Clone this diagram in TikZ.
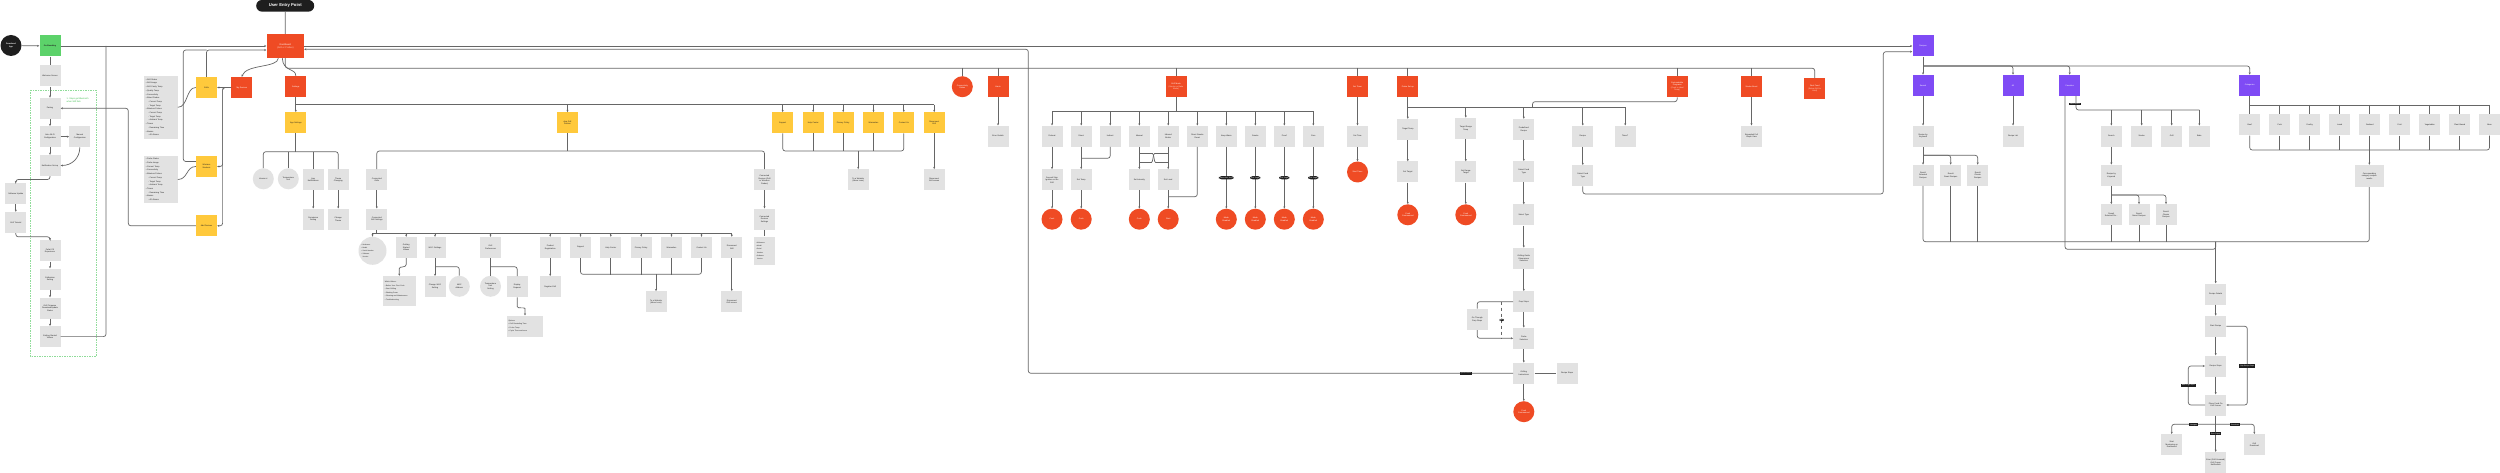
\documentclass[tikz,border=0pt]{standalone}
\usepackage{fontspec}
\setmainfont{Liberation Sans}
\newfontfamily\djv{DejaVu Sans}
\newcommand{\subitm}{\hspace*{2pt}{\djv ◦}\ }
\usetikzlibrary{arrows.meta}
\definecolor{cred}{HTML}{EF4B24}
\definecolor{cyel}{HTML}{FFC93C}
\definecolor{cgrn}{HTML}{5CD26A}
\definecolor{cdgrn}{HTML}{8FDC99}
\definecolor{cnote}{HTML}{3DBE4E}
\definecolor{cpur}{HTML}{7F4BF5}
\definecolor{cgry}{HTML}{E2E2E2}
\definecolor{cblk}{HTML}{1E1E1E}
\definecolor{cln}{HTML}{666666}
\definecolor{ctxt}{HTML}{222222}
\definecolor{cpink}{HTML}{FFD2C2}
\begin{document}
\begin{tikzpicture}[x=1pt,y=-1pt,
 every node/.style={inner sep=0.5pt},
 base/.style={rectangle, minimum width=21pt, minimum height=21pt, text width=19.5pt, align=center, font=\fontsize{2}{2.5}\selectfont},
 gbx/.style={base, fill=cgry, text=ctxt},
 rbx/.style={base, fill=cred, text=white},
 ybx/.style={base, fill=cyel, text=ctxt},
 pbx/.style={base, fill=cpur, text=white},
 gci/.style={circle, fill=cgry, text=ctxt, minimum size=21pt, text width=17pt, align=center, font=\fontsize{2}{2.5}\selectfont},
 rci/.style={circle, fill=cred, text=white, minimum size=21pt, text width=17pt, align=center, font=\fontsize{2}{2.5}\selectfont},
 blk/.style={fill=cblk, text=white, inner xsep=1pt, inner ysep=0.8pt, font=\fontsize{1.7}{2}\selectfont},
 bul/.style={fill=cgry, text=ctxt, align=left, text width=#1, inner sep=1.8pt, font=\fontsize{2}{3.7}\selectfont},
 lnk/.style={draw=cln, line width=0.7pt, rounded corners=2.5pt},
 arw/.style={lnk, -{Stealth[length=2.2pt,width=2pt]}}
]
\useasboundingbox (0,0) rectangle (2500,473);
\fill[white] (0,0) rectangle (2500,473);

% ---------------- onboarding ----------------
\draw[draw=cdgrn, line width=0.5pt, dash pattern=on 1.5pt off 1pt] (30.7,90) rectangle (96,356.5);
\node[circle, fill=cblk, text=white, minimum size=21pt, text width=18pt, align=center, font=\fontsize{2}{2.4}\selectfont\bfseries] (dl) at (11,45.5) {Download\\App};
\node[base, fill=cgrn, text=ctxt, font=\fontsize{2}{2.5}\selectfont\bfseries] (onb) at (50,46) {On-Boarding};
\node[gbx] (acct) at (50,76) {Welcome Screen};
\node[anchor=west, align=left, text=cnote, font=\fontsize{2.2}{3.5}\selectfont] (note) at (66,100) {1. Steps get Bluetooth\\when Wifi fails};
\node[gbx] (pair) at (50,108.3) {Pairing};
\node[gbx] (autow) at (50,136.7) {Auto Wi-Fi\\Configuration};
\node[gbx] (manw) at (79.8,136.7) {Manual\\Configuration};
\node[gbx] (notif) at (50,165.5) {Notification Set-up};
\node[gbx] (swu) at (15.8,193.8) {Software Update};
\node[gbx] (tut) at (15.8,222.5) {Grill Tutorial};
\node[gbx] (prime) at (50,250.8) {Pellet Fill\\Experience};
\node[gbx] (calib) at (50,279) {Calibration\\Setting};
\node[gbx] (firm) at (50,308) {Grill Firmware\\Download/Update\\Status};
\node[gbx] (gs) at (50,336.6) {Getting Started\\Videos};

% ---------------- dashboard area ----------------
\node[rectangle, rounded corners=5.8pt, fill=cblk, text=white, minimum width=58pt, minimum height=11.7pt, font=\fontsize{4.2}{5}\selectfont\bfseries] (uep) at (285.2,5.8) {User Entry Point};
\node[rbx, minimum width=37.3pt, minimum height=24pt, text width=35pt, font=\fontsize{2.3}{3}\selectfont] (dash) at (285.3,46) {Dashboard\\{\color{cpink}(Grill or Probes)}};
\node[ybx] (grills) at (206.5,87.5) {Grills};
\node[rbx] (mydev) at (241.8,87.5) {My Devices};
\node[rbx] (sett) at (295.8,86.5) {Settings};
\node[ybx] (wsm) at (206.5,166.5) {Wireless\\Smokers};
\node[ybx] (adddev) at (206.5,225.8) {Add Devices};
\node[bul=30pt, minimum height=62.7pt] (bl1) at (160.8,107.3) {• Grill Status\\• Grill Image\\• Grill Cavity Temp\\• Quality Temp\\• Connectivity\\• Wired Probes\\\subitm Current Temp\\\subitm Target Temp\\• Wireless Probes\\\subitm Current Temp\\\subitm Target Temp\\\subitm Ambient Temp\\• Timers\\\subitm Remaining Time\\• Alarms\\\subitm All Alarms};
\node[bul=30pt, minimum height=47.7pt] (bl2) at (160.8,179.5) {• Probe Status\\• Probe Image\\• Current Temp\\• Connectivity\\• Wireless Probes\\\subitm Current Temp\\\subitm Target Temp\\\subitm Ambient Temp\\• Timers\\\subitm Remaining Time\\• Alarms\\\subitm All Alarms};

% onboarding edges
\draw[arw] (dl) -- (onb);
\draw[arw] (onb) -- (dash.west);
\draw[lnk] (gs.east) -- (106,336.6) -- (106,46);
\draw[lnk] (onb) -- (acct);
\draw[arw] (acct) -- (pair);
\draw[arw] (pair) -- (autow);
\draw[arw] (autow) -- (manw);
\draw[arw] (autow) -- (notif);
\draw[arw] (manw.south) .. controls (79.8,158) and (72,165.5) .. (notif.east);
\draw[arw] (notif.south) -- (50,179.5) -- (15.8,179.5) -- (swu.north);
\draw[arw] (swu) -- (tut);
\draw[arw] (tut.south) -- (15.8,236.8) -- (50,236.8) -- (prime.north);
\draw[arw] (prime) -- (calib);
\draw[arw] (calib) -- (firm);
\draw[arw] (firm) -- (gs);
\draw[arw] (adddev.west) -- (128.3,225.8) -- (128.3,108.3) -- (pair.east);

% dashboard edges
\draw[lnk] (uep) -- (dash);
\draw[arw] (grills.north) -- (206.5,50) -- ([yshift=-4pt]dash.west);
\draw[lnk] ([yshift=5pt]wsm.west) -- (183.3,161.5) -- (183.3,50) -- (206.5,50);
\draw[lnk] (bl1.east) .. controls (188,107.3) and (186,87.5) .. (grills.west);
\draw[lnk] (bl2.east) .. controls (188,179.5) and (186,166.5) .. (wsm.west);
\draw[arw] ([xshift=-7pt]dash.south) .. controls (278,68) and (246,64) .. (mydev.north);
\draw[lnk] ([xshift=-3pt]dash.south) .. controls (283,72) and (296,68) .. (sett.north);
\draw[arw] (mydev.west) -- (grills.east);
\draw[arw] (mydev.west) -- ++(-8.5,0) |- (wsm.east);
\draw[arw] (mydev.west) -- ++(-8.5,0) |- (adddev.east);

% ---------------- settings ----------------
\node[ybx] (app) at (295.8,122.8) {App Settings};
\node[ybx] (gsety) at (567.5,122.8) {App Grill\\Section};
\node[ybx] (supy) at (782.7,122.8) {Support};
\node[ybx] (helpy) at (813.2,122.8) {Help Center};
\node[ybx] (privy) at (843.2,122.8) {Privacy Policy};
\node[ybx] (warry) at (873.5,122.8) {Warranties};
\node[ybx] (conty) at (903.8,122.8) {Contact Us};
\node[ybx] (discy) at (934.2,122.8) {Disconnect\\Grill};
\draw[arw] (sett) -- (app);
\draw[lnk] (295.8,104.8) -- (934.2,104.8);
\foreach \n in {gsety,supy,helpy,privy,warry,conty,discy} \draw[arw] ([yshift=7.5pt]\n.north) -- (\n.north);

\node[gci] (ver) at (263.3,178.8) {Version \#};
\node[gci] (tunit) at (288.3,178.8) {Temperature\\Unit};
\node[gbx] (appn) at (313.2,179.8) {App\\Notifications};
\node[gbx] (theme) at (338.2,179.8) {Theme\\Changing};
\node[gbx] (perm) at (313.2,219.2) {Permission\\Setting};
\node[gbx] (chth) at (338.2,219.2) {Change\\Theme};
\draw[lnk] (app.south) -- (295.8,151.7);
\draw[lnk] (ver.north) -- (263.3,151.7) -- (338.2,151.7) -- (theme.north);
\draw[lnk] (tunit.north) -- (288.3,151.7);
\draw[lnk] (appn.north) -- (313.2,151.7);
\draw[arw] (appn) -- (perm);
\draw[arw] (theme) -- (chth);

\node[gbx] (cgr) at (376.8,179.8) {Connected\\Grills};
\node[gbx] (cgs) at (376.8,219.2) {Connected\\Grill Settings};
\node[gbx] (cdev) at (764.5,179.8) {Connected\\Devices (Grill\\or Wireless\\Probes)};
\node[gbx] (cds) at (764.5,219.2) {Connected\\Devices\\Settings};
\node[bul=17pt, minimum height=28.3pt, font=\fontsize{1.7}{3.2}\selectfont] (cdsb) at (764.5,250.8) {• Nickname\\• Model\\• Serial\\\ \ Number\\• Software\\\ \ Version};
\draw[lnk] (gsety.south) -- (567.5,151);
\draw[lnk] (cgr.north) -- (376.8,151) -- (764.5,151) -- (cdev.north);
\draw[arw] (cgr) -- (cgs);
\draw[arw] (cdev) -- (cds);
\draw[lnk] (cds) -- (cdsb);

\node[gci, minimum size=28pt, text width=22pt, align=left, font=\fontsize{1.7}{2.8}\selectfont] (info) at (372.5,250.8) {• Nickname\\• Model\\• Serial Number\\• Software\\\ \ Version};
\node[gbx] (vids) at (406.2,247.5) {Getting\\Started\\Videos};
\node[gbx] (wifi) at (435,247.5) {Wi-Fi Settings};
\node[gbx] (gpref) at (490.5,247.5) {Grill\\Preferences};
\node[gbx] (preg) at (550.2,247.5) {Product\\Registration};
\node[gbx] (sup2) at (580.5,247.5) {Support};
\node[gbx] (help2) at (610.8,247.5) {Help Center};
\node[gbx] (priv2) at (641.2,247.5) {Privacy Policy};
\node[gbx] (warr2) at (671.5,247.5) {Warranties};
\node[gbx] (cont2) at (701.5,247.5) {Contact Us};
\node[gbx] (disc2) at (731.8,247.5) {Disconnect\\Grill};
\draw[lnk] (cgs.south) -- (376.8,233.3);
\draw[lnk] (372.5,233.3) -- (731.8,233.3);
\foreach \n in {vids,wifi,gpref,preg,sup2,help2,priv2,warr2,cont2,disc2} \draw[arw] ([yshift=3.7pt]\n.north) -- (\n.north);
\draw[arw] (372.5,233.3) -- (info.north);

\node[bul=29pt, minimum height=30pt, font=\fontsize{1.8}{3.6}\selectfont] (vidsb) at (399.3,291) {Which Videos:\\• Before Your First Cook\\• Start Grilling\\• Shutting Down\\• Cleaning and Maintenance\\• Troubleshooting};
\draw[arw] (vids.south) -- (406.2,262) .. controls (406.2,268) and (399.3,266) .. (399.3,271) -- (vidsb.north);
\node[gbx] (chwifi) at (435,286.7) {Change Wi-Fi\\Setting};
\node[gci] (mac) at (459.3,286.3) {MAC\\Address};
\draw[arw] (wifi) -- (chwifi);
\draw[lnk] (435,266.7) -- (459.3,266.7) -- (mac.north);
\node[gci] (tempset) at (490.5,286.3) {Temperature\\Unit\\Setting};
\node[gbx] (disp) at (517.2,286.7) {Display\\Request};
\draw[lnk] (gpref) -- (tempset);
\draw[lnk] (490.5,266.7) -- (517.2,266.7) -- (disp.north);
\node[bul=33pt, minimum height=21pt, font=\fontsize{1.8}{3.4}\selectfont] (dispb) at (525,326.2) {Options:\\• Grill Reminding Time\\• Probe Temp\\• Cycle Time and more};
\draw[arw] (disp.south) -- (517.2,304) .. controls (517.2,309) and (525,307) .. (525,311) -- (dispb.north);
\node[gbx] (reg) at (550.2,286.7) {Register Grill};
\draw[arw] (preg) -- (reg);
\node[gbx] (web2) at (656,301.8) {To a Website\\(Move Lens)};
\node[gbx] (disc2s) at (731.8,301.8) {Disconnect\\Grill screen};
\draw[lnk] (sup2.south) -- (580.5,274.3) -- (701.5,274.3) -- (cont2.south);
\foreach \n in {help2,priv2,warr2} \draw[lnk] (\n.south) -- ++(0,16.3);
\draw[arw] (656,274.3) -- (web2.north);
\draw[arw] (disc2) -- (disc2s);

\node[gbx] (web1) at (858.2,179.8) {To a Website\\(Move Lens)};
\node[gbx] (discs1) at (934.2,179.8) {Disconnect\\Grill screen};
\draw[lnk] (supy.south) -- (782.7,151) -- (903.8,151) -- (conty.south);
\foreach \n in {helpy,privy,warry} \draw[lnk] (\n.south) -- ++(0,17.7);
\draw[arw] (858.2,151) -- (web1.north);
\draw[arw] (discy) -- (discs1);

% ---------------- top-level red row ----------------
\node[rci] (conn) at (962.3,86.7) {Connectivity\\Status};
\node[rbx] (alerts) at (998,86.8) {Alerts};
\node[rbx] (gmode) at (1176,86.8) {Grill Mode\\{\color{cpink}(Smoke or Bake}\\{\color{cpink}Mode)}};
\node[rbx] (timer) at (1357.5,86.8) {Set Timer};
\node[rbx] (probe) at (1407.8,86.8) {Probe Set-up};
\node[rbx] (cprog) at (1677.2,86.7) {Customizable\\Programs\\{\color{cpink}(Cook to Ideal}\\{\color{cpink}Temp)}};
\node[rbx] (sboost) at (1751.5,86.8) {Smoke Boost};
\node[rbx] (rest) at (1814.7,88.8) {Rest Food\\{\color{cpink}(Below Grill to}\\{\color{cpink}Hold)}};
\draw[lnk] (dash.south) -- (285.3,68.2) -- (1814.7,68.2) -- (rest.north);
\foreach \n in {conn,alerts,gmode,timer,probe,cprog,sboost} \draw[lnk] ([yshift=8.2pt]\n.north) -- (\n.north);

\node[gbx] (errd) at (998,136.2) {Error Details};
\draw[arw] (alerts) -- (errd);

% grill mode
\node[gbx] (preheat) at (1052,136.2) {Preheat};
\node[gbx] (direct) at (1081.2,136.2) {Direct};
\node[gbx] (indirect) at (1110.2,136.2) {Indirect};
\node[gbx] (manual) at (1139.3,136.2) {Manual};
\node[gbx] (ibroil) at (1168.2,136.2) {Infrared\\Broiler};
\node[gbx] (dsr) at (1197.3,136.2) {Direct Smoke\\Roast};
\node[gbx] (kwarm) at (1226.3,136.2) {Keep Warm};
\node[gbx] (smoke) at (1255.3,136.2) {Smoke};
\node[gbx] (proof) at (1284.3,136.2) {Proof};
\node[gbx] (cure) at (1313.3,136.2) {Cure};
\draw[lnk] (gmode.south) -- (1176,111.7);
\draw[lnk] (1052,111.7) -- (1313.3,111.7);
\foreach \n in {preheat,direct,indirect,manual,ibroil,dsr,kwarm,smoke,proof,cure} \draw[arw] ([yshift=14pt]\n.north) -- (\n.north);
\node[gbx] (ign) at (1052,179.8) {Second Step\\Ignition on the\\Grill};
\node[gbx] (stemp) at (1081.2,179.8) {Set Temp};
\node[gbx] (sint) at (1139.3,179.8) {Set Intensity};
\node[gbx] (slev) at (1168.2,179.8) {Set Level};
\node[rci] (ck1) at (1052,219.2) {Cook};
\node[rci] (ck2) at (1081.2,219.2) {Cook};
\node[rci] (ck3) at (1139.3,219.2) {Cook};
\node[rci] (st4) at (1168.2,219.2) {Start};
\node[rci] (me1) at (1226.3,219.2) {Mode\\Enabled};
\node[rci] (me2) at (1255.3,219.2) {Mode\\Enabled};
\node[rci] (me3) at (1284.3,219.2) {Mode\\Enabled};
\node[rci] (me4) at (1313.3,219.2) {Mode\\Enabled};
\draw[arw] (preheat) -- (ign);
\draw[arw] (ign) -- (ck1);
\draw[arw] (direct) -- (stemp);
\draw[arw] (stemp) -- (ck2);
\draw[lnk] (indirect.south) -- (1110.2,158.3) -- (1081.2,158.3);
\draw[arw] (manual) -- (sint);
\draw[arw] (ibroil) -- (slev);
\draw[lnk] (1139.3,153.5) -- (1150,153.5) .. controls (1154,153.5) and (1154,162.5) .. (1158,162.5) -- (1168.2,162.5);
\draw[lnk] (1168.2,153.5) -- (1157,153.5) .. controls (1153,153.5) and (1153,162.5) .. (1149,162.5) -- (1139.3,162.5);
\draw[arw] (sint) -- (ck3);
\draw[arw] (slev) -- (st4);
\draw[lnk] (dsr.south) -- (1197.3,196.7) -- (1168.2,196.7);
\draw[arw] (kwarm) -- (me1) node[blk, pos=0.5] (t1) {Select Grill Temp};
\draw[arw] (smoke) -- (me2) node[blk, pos=0.5] (t2) {Grill Target};
\draw[arw] (proof) -- (me3) node[blk, pos=0.5] (t3) {Grill Target};
\draw[arw] (cure) -- (me4) node[blk, pos=0.5] (t4) {Grill Target};

% timer
\node[gbx] (settime) at (1357.5,136.2) {Set Time};
\node[rci] (stimer) at (1357.5,172) {Start Timer};
\draw[arw] (timer) -- (settime);
\draw[arw] (settime) -- (stimer);

% probe
\node[gbx] (ttemp) at (1407.8,129.5) {Target Temp};
\node[gbx] (trange) at (1465.8,128.3) {Target Range\\Temp};
\node[gbx] (pre) at (1523.8,129.5) {Predefined\\Recipe};
\node[gbx] (rec) at (1582.8,136.2) {Recipe};
\node[gbx] (tmr) at (1625.2,136.2) {Timer?};
\draw[arw] (probe) -- (ttemp);
\draw[lnk] (1407.8,107.7) -- (1625.2,107.7);
\draw[arw] ([yshift=10.1pt]trange.north) -- (trange.north);
\draw[arw] ([yshift=11.3pt]pre.north) -- (pre.north);
\draw[arw] ([yshift=18pt]rec.north) -- (rec.north);
\draw[arw] ([yshift=18pt]tmr.north) -- (tmr.north);
\draw[lnk] (cprog.south) -- (1677.2,101.7) -- (1532.5,101.7) -- (1532.5,107.7);
\node[gbx] (starg) at (1407.8,172) {Set Target};
\node[rci] (cc1) at (1407.8,214.8) {Cook\\Commenced};
\node[gbx] (srange) at (1465.8,172) {Set Range\\Target};
\node[rci] (cc2) at (1465.8,214.8) {Cook\\Commenced};
\draw[arw] (ttemp) -- (starg);
\draw[arw] (starg) -- (cc1);
\draw[arw] (trange) -- (srange);
\draw[arw] (srange) -- (cc2);
\node[gbx] (sft) at (1523.8,171.7) {Select Food\\Type};
\node[gbx] (stype) at (1523.8,215) {Select Type};
\node[gbx] (gdim) at (1523.8,258.3) {Grilling Guide\\Dimensions\\Selection};
\node[gbx] (prep) at (1523.8,301.7) {Prep Steps};
\node[gbx] (psel) at (1523.8,338.3) {Probe\\Selection};
\node[gbx] (ginst) at (1523.8,373.3) {Grilling\\Instructions};
\node[rci] (cc3) at (1523.8,411.7) {Cook\\Commenced};
\node[gbx] (gothru) at (1477.2,319.3) {Go Through\\Prep Steps};
\node[gbx] (recst) at (1567,373.3) {Recipe Steps};
\draw[arw] (pre) -- (sft);
\draw[arw] (sft) -- (stype);
\draw[arw] (stype) -- (gdim);
\draw[arw] (gdim) -- (prep);
\draw[arw] (prep) -- (psel);
\draw[arw] (psel) -- (ginst);
\draw[arw] (ginst) -- (cc3);
\draw[lnk] (prep.west) -| (gothru.north);
\draw[arw] (gothru.south) |- (psel.west);
\draw[lnk, dashed] (1501.7,301.7) -- (1501.7,338.3) node[blk, midway, solid] (tno) {No};
\draw[lnk] (ginst) -- (recst);
\draw[arw] (ginst.west) -- (1028.3,373.3) -- (1028.3,49.3) -- ([yshift=-3.3pt]dash.east);
\node[blk] (tq) at (1465.7,373.3) {Quick Access};

% recipe branch from probe
\node[gbx] (sft2) at (1582.8,175.7) {Select Food\\Type};
\draw[arw] (rec) -- (sft2);

% smoke boost
\node[gbx] (graph) at (1751.5,136.2) {Expanded Full\\Graph View};
\draw[arw] (sboost) -- (graph);

% ---------------- recipes ----------------
\node[pbx] (recipes) at (1923,46) {Recipes};
\draw[arw] (dash.east) -- (recipes.west);
\draw[arw] (sft2.south) -- (1582.8,194) -- (1883.3,194) -- (1883.3,51.7) -- ([yshift=-5.7pt]recipes.west);
\node[pbx] (srch) at (1923,85.3) {Search};
\node[pbx] (all) at (2013,85.3) {All};
\node[pbx] (fav) at (2069.7,85.3) {Favorites};
\node[pbx] (cat) at (2249.7,85.3) {Categories};
\draw[arw] (recipes) -- (srch);
\draw[arw] (1923,66) -| (all.north);
\draw[arw] (1923,66) -| (fav.north);
\draw[arw] (1923,66) -| (cat.north);

\node[gbx] (rbk) at (1923,136.2) {Recipe by\\Keyword};
\node[gbx] (wl) at (2013,136.2) {Recipe List};
\draw[arw] (srch) -- (rbk);
\draw[arw] (all) -- (wl);
\node[gbx] (r1) at (1923,175.3) {Result\\Selected\\Recipes};
\node[gbx] (r2) at (1950.7,175.3) {Result\\Smart Recipes};
\node[gbx] (r3) at (1977.7,175.3) {Result\\Classic\\Recipes};
\draw[arw] (rbk) -- (r1);
\draw[arw] (1923,155.3) -| (r2.north);
\draw[arw] (1923,155.3) -| (r3.north);

\node[gbx] (fsearch) at (2111.3,136.2) {Search};
\node[gbx] (fsmoke) at (2141.7,136.2) {Smoke};
\node[gbx] (fgrill) at (2171.7,136.2) {Grill};
\node[gbx] (fbake) at (2199.3,136.2) {Bake};
\draw[lnk] ([xshift=6.3pt]fav.south) -- (2076,110) -- (2199.3,110);
\foreach \n in {fsearch,fsmoke,fgrill,fbake} \draw[arw] ([yshift=15.7pt]\n.north) -- (\n.north);
\node[blk] (mr) at (2075,104) {Most Recent};
\node[gbx] (frbk) at (2111.3,175.3) {Recipe by\\Keyword};
\node[gbx] (fr1) at (2111.3,214.8) {Result\\Selected Re...};
\node[gbx] (fr2) at (2139,214.8) {Result\\Smart Recipes};
\node[gbx] (fr3) at (2166,214.8) {Result\\Classic\\Recipes};
\draw[arw] (fsearch) -- (frbk);
\draw[arw] (frbk) -- (fr1);
\draw[arw] (2111.3,195) -| (fr2.north);
\draw[arw] (2111.3,195) -| (fr3.north);

\node[gbx] (beef) at (2249.7,125) {Beef};
\node[gbx] (pork) at (2279.7,125) {Pork};
\node[gbx] (poultry) at (2309.7,125) {Poultry};
\node[gbx] (lamb) at (2339.7,125) {Lamb};
\node[gbx] (seafood) at (2369.7,125) {Seafood};
\node[gbx] (fruit) at (2399.7,125) {Fruit};
\node[gbx] (veg) at (2429.7,125) {Vegetables};
\node[gbx] (plant) at (2459.7,125) {Plant Based};
\node[gbx] (more) at (2489.5,125) {More};
\draw[lnk] (cat.south) -- (beef.north);
\draw[lnk] (2249.7,105) -- (2489.5,105);
\foreach \n in {pork,poultry,lamb,seafood,fruit,veg,plant,more} \draw[lnk] ([yshift=9.5pt]\n.north) -- (\n.north);
\draw[lnk] (beef.south) -- (2249.7,150) -- (2489.5,150) -- (more.south);
\foreach \n in {pork,poultry,lamb,seafood,fruit,veg,plant} \draw[lnk] (\n.south) -- ++(0,14.5);
\node[gbx, minimum width=29.3pt, text width=27.5pt, minimum height=22pt] (corr) at (2369.3,176) {Corresponding\\category recipes\\results};
\draw[arw] (2369.3,150) -- (corr.north);

% merge
\draw[lnk] (r1.south) -- (1923,241.7) -- (2369.3,241.7) -- (corr.south);
\draw[lnk] (r2.south) -- ++(0,55.9);
\draw[lnk] (r3.south) -- ++(0,55.9);
\foreach \n in {fr1,fr2,fr3} \draw[lnk] (\n.south) -- ++(0,16.4);
\draw[lnk] ([xshift=-4.7pt]fav.south) -- (2065,249.3) -- (2215.7,249.3) -- (2215.7,241.7);

\node[gbx] (rdet) at (2215.7,294) {Recipe Details};
\node[gbx] (strec) at (2215.7,326.3) {Start Recipe};
\node[gbx] (rsteps) at (2215.7,366) {Recipe Steps};
\node[gbx] (pfood) at (2215.7,405) {Place Food On\\Grill Screen};
\draw[arw] (2215.7,241.7) -- (rdet.north);
\draw[arw] (rdet) -- (strec);
\draw[arw] (strec) -- (rsteps);
\draw[arw] (rsteps) -- (pfood);
\draw[arw] (strec.east) -- (2247.3,326.3) -- (2247.3,405) -- (pfood.east);
\node[blk] (tskip) at (2247.3,366) {Skip Recipe Steps};
\draw[arw] (pfood.west) -- (2188.3,405) -- (2188.3,366) -- (rsteps.west);
\node[blk] (tback) at (2188.3,385.5) {Back to go steps};
\node[gbx] (smon) at (2171.7,444.7) {Start\\Monitoring on\\Dashboard};
\node[gbx] (err) at (2215.7,462.5) {Error (Grill Unsaved)\\Grill Popup\\Notification};
\node[gbx] (gdl) at (2254.3,444.7) {Grill\\Download};
\draw[lnk] (pfood.south) -- (2215.7,424.3);
\draw[arw] (2215.7,424.3) -| (smon.north);
\draw[arw] (2215.7,424.3) -- (err.north);
\draw[arw] (2215.7,424.3) -| (gdl.north);
\node[blk] (tnav) at (2193.7,424.8) {Navigate};
\node[blk] (terr) at (2215.7,433.8) {Error Popup};
\node[blk] (tdl) at (2235,424.8) {Download};
\end{tikzpicture}
\end{document}
